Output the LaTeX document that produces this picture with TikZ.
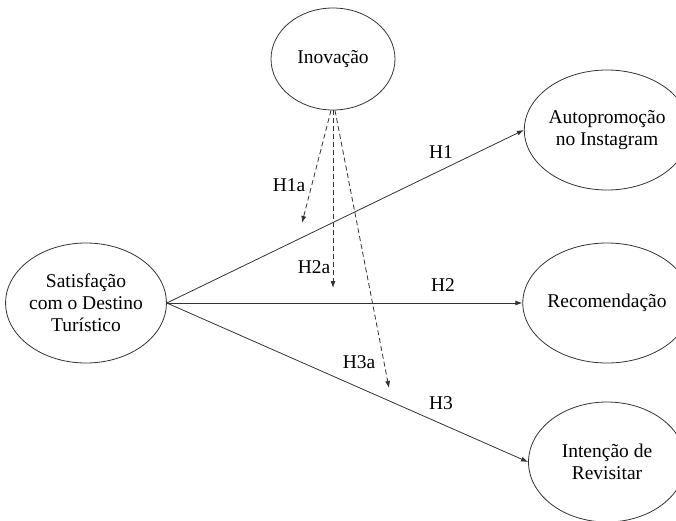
\documentclass[tikz,border=0pt]{standalone}
\usepackage{fontspec}
\setmainfont{Liberation Serif}
\usetikzlibrary{shapes.geometric,arrows.meta}
\begin{document}
\begin{tikzpicture}[x=1pt,y=-1pt,
  every node/.style={font=\fontsize{19.5}{22}\selectfont},
  latent/.style={ellipse,draw=black!80,line width=0.8pt,inner sep=0pt,align=center},
  big/.style={latent,minimum width=157pt,minimum height=120pt},
  conn/.style={draw=black!80,line width=0.8pt,-{Latex[length=7pt,width=5pt]}},
  dconn/.style={conn,dashed,dash pattern=on 5pt off 3pt},
  lab/.style={inner sep=0pt}]
\useasboundingbox (0,0) rectangle (676,520);
\clip (0,0) rectangle (676,520);
\fill[white] (0,0) rectangle (676,520);
\node[latent,minimum width=124pt,minimum height=102pt] (ino) at (333,59) {Inovação};
\node[big] (sat) at (86,303) {Satisfação\\com o Destino\\Turístico};
\node[big] (auto) at (607,130) {Autopromoção\\no Instagram};
\node[big] (rec) at (607,303) {Recomendação};
\node[big] (int) at (607,462) {Intenção de\\Revisitar};
\draw[conn] (sat.east) -- (auto.west);
\draw[conn] (sat.east) -- (rec.west);
\draw[conn] (sat.east) -- (int.west);
\coordinate (t1) at (302,223);
\coordinate (t2) at (333,288);
\coordinate (t3) at (389,388);
\draw[dconn] ([xshift=-2pt]ino.south) -- (t1);
\draw[dconn] (ino.south) -- (t2);
\draw[dconn] ([xshift=2pt]ino.south) -- (t3);
\node[lab] (h1) at (441,152) {H1};
\node[lab] (h2) at (443,285) {H2};
\node[lab] (h3) at (441,403) {H3};
\node[lab] (h1a) at (289,185) {H1a};
\node[lab] (h2a) at (314,267) {H2a};
\node[lab] (h3a) at (359,362) {H3a};
\end{tikzpicture}
\end{document}
